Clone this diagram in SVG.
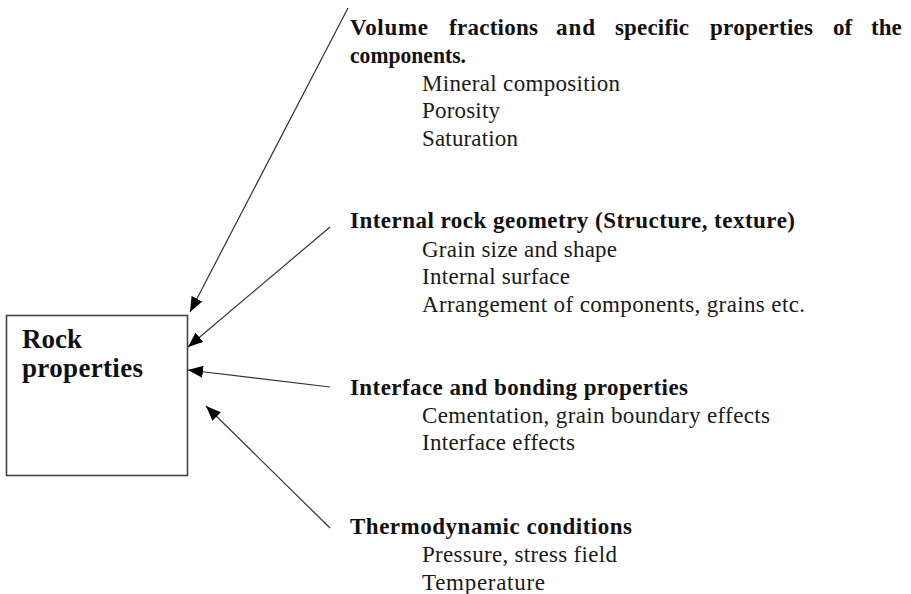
<svg xmlns="http://www.w3.org/2000/svg" width="911" height="594" viewBox="0 0 911 594">
<style>
.h{font-family:"Liberation Serif","Times New Roman",serif;font-weight:bold;font-size:23px;fill:#111}
.s{font-family:"Liberation Serif","Times New Roman",serif;font-size:23px;fill:#1a1a1a}
.t{font-family:"Liberation Serif","Times New Roman",serif;font-weight:bold;font-size:27px;fill:#111}
.c{stroke:#333;stroke-width:1.2;fill:none;marker-end:url(#ah)}
</style>
<defs>
<marker id="ah" markerUnits="userSpaceOnUse" markerWidth="16" markerHeight="12" refX="15" refY="6" orient="auto">
<path d="M0,0 L15,6 L0,12 Z" fill="#000"/>
</marker>
</defs>
<rect width="911" height="594" fill="#fff"/>
<g id="rock-properties">
<rect x="6.5" y="315.5" width="181" height="160" fill="#fff" stroke="#444" stroke-width="1.6"/>
<text class="t" x="22" y="348" textLength="60">Rock</text>
<text class="t" x="22" y="377" textLength="121">properties</text>
</g>
<g id="connectors">
<line class="c" x1="348" y1="8" x2="190" y2="312"/>
<line class="c" x1="330" y1="227" x2="188" y2="347"/>
<line class="c" x1="330" y1="387" x2="188" y2="370"/>
<line class="c" x1="330" y1="528" x2="206" y2="406"/>
</g>
<g id="volume-fractions">
<text class="h" y="35"><tspan x="350" textLength="78">Volume</tspan><tspan x="449" textLength="89">fractions</tspan><tspan x="556" textLength="39">and</tspan><tspan x="615" textLength="74">specific</tspan><tspan x="710" textLength="103">properties</tspan><tspan x="833">of</tspan><tspan x="871">the</tspan></text>
<text class="h" x="350" y="63" textLength="116" lengthAdjust="spacingAndGlyphs">components.</text>
<text class="s" x="422" y="91" textLength="198">Mineral composition</text>
<text class="s" x="422" y="118" textLength="78">Porosity</text>
<text class="s" x="422" y="146" textLength="96">Saturation</text>
</g>
<g id="internal-geometry">
<text class="h" x="350" y="228" textLength="445">Internal rock geometry (Structure, texture)</text>
<text class="s" x="422" y="257" textLength="195">Grain size and shape</text>
<text class="s" x="422" y="284" textLength="148">Internal surface</text>
<text class="s" x="422" y="312" textLength="383">Arrangement of components, grains etc.</text>
</g>
<g id="interface-bonding">
<text class="h" x="350" y="395" textLength="338">Interface and bonding properties</text>
<text class="s" x="422" y="423" textLength="348">Cementation, grain boundary effects</text>
<text class="s" x="422" y="450" textLength="153">Interface effects</text>
</g>
<g id="thermodynamic">
<text class="h" x="350" y="534" textLength="282">Thermodynamic conditions</text>
<text class="s" x="422" y="562" textLength="195">Pressure, stress field</text>
<text class="s" x="422" y="590" textLength="123">Temperature</text>
</g>
</svg>
